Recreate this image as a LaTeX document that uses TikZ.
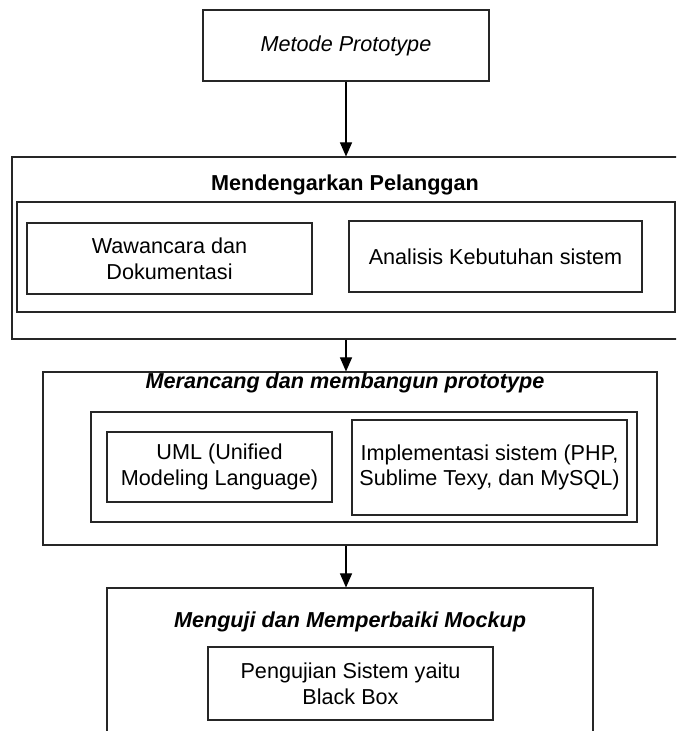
\documentclass[tikz,border=0pt]{standalone}
\usepackage{fontspec}
\setmainfont{Liberation Sans}
\usepackage{tikz}
\usetikzlibrary{arrows.meta, positioning}

\tikzset{
  box/.style={draw=black!85, line width=0.6pt, fill=white, align=center, inner sep=2pt,
    font=\fontsize{12.3}{14.6}\selectfont},
  frame/.style={draw=black!85, line width=0.6pt},
  stagetitle/.style={font=\fontsize{12.3}{14.6}\selectfont\bfseries\itshape, inner sep=0pt},
  flow/.style={draw=black, line width=0.6pt, -{Triangle[width=0.24cm,length=0.28cm]}}
}

\begin{document}
\begin{tikzpicture}
  \clip (0,0) rectangle (13.52,14.62);

  % Start
  \node[box, minimum width=5.72cm, minimum height=1.42cm, font=\fontsize{12.3}{14.6}\selectfont\itshape] (metode) at (6.92,13.71) {Metode Prototype};

  % Stage 1
  \node[frame, minimum width=13.76cm, minimum height=3.64cm] (dengar) at (7.12,9.66) {};
  \node[stagetitle, font=\fontsize{12.3}{14.6}\selectfont\bfseries] (dengarjudul) at (6.9,10.92) {Mendengarkan Pelanggan};
  \node[frame, minimum width=13.16cm, minimum height=2.2cm] (dengarisi) at (6.92,9.48) {};
  \node[box, minimum width=5.7cm, minimum height=1.42cm] (wawancara) at (3.39,9.45) {Wawancara dan\\Dokumentasi};
  \node[box, minimum width=5.86cm, minimum height=1.42cm] (analisis) at (9.91,9.49) {Analisis Kebutuhan sistem};

  % Stage 2
  \node[frame, minimum width=12.28cm, minimum height=3.46cm] (rancang) at (7.0,5.45) {};
  \node[stagetitle] (rancangjudul) at (6.9,6.96) {Merancang dan membangun prototype};
  \node[frame, minimum width=10.92cm, minimum height=2.2cm] (rancangisi) at (7.28,5.28) {};
  \node[box, minimum width=4.5cm, minimum height=1.4cm] (uml) at (4.39,5.28) {UML (Unified\\Modeling Language)};
  \node[box, minimum width=5.5cm, minimum height=1.9cm] (implementasi) at (9.79,5.27) {Implementasi sistem (PHP,\\Sublime Texy, dan MySQL)};

  % Stage 3
  \node[frame, minimum width=9.72cm, minimum height=3.44cm] (uji) at (7.0,1.14) {};
  \node[stagetitle] (ujijudul) at (7.0,2.18) {Menguji dan Memperbaiki Mockup};
  \node[box, minimum width=5.7cm, minimum height=1.46cm] (pengujian) at (7.01,0.95) {Pengujian Sistem yaitu\\Black Box};

  % Arrows
  \draw[flow] (metode.south) -- (metode.south |- dengar.north);
  \draw[flow] (metode.south |- dengar.south) -- (metode.south |- rancang.north);
  \draw[flow] (metode.south |- rancang.south) -- (metode.south |- uji.north);
\end{tikzpicture}
\end{document}
